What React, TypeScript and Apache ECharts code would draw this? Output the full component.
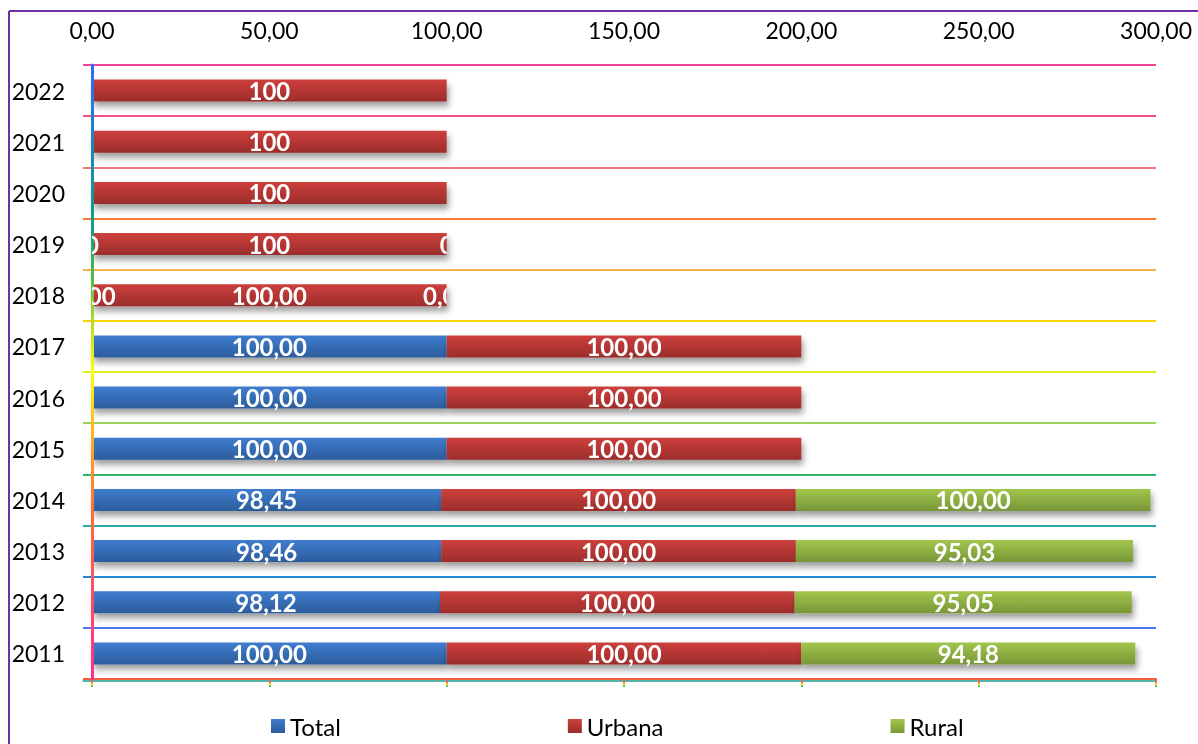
import React, { useEffect, useRef } from "react";
import * as echarts from "echarts";

const years = ["2011", "2012", "2013", "2014", "2015", "2016", "2017", "2018", "2019", "2020", "2021", "2022"];
const totalValues: (number | null)[] = [100, 98.12, 98.46, 98.45, 100, 100, 100, 0, 0, null, null, null];
const urbanaValues: (number | null)[] = [100, 100, 100, 100, 100, 100, 100, 100, 100, 100, 100, 100];
const ruralValues: (number | null)[] = [94.18, 95.05, 95.03, 100, null, null, null, 0, 0, null, null, null];
const labelDecimals = [2, 2, 2, 2, 2, 2, 2, 2, 0, 0, 0, 0];
const xMin = 0;
const xMax = 300;
const xInterval = 50;
const legendNames = ["Total", "Urbana", "Rural"];

const gridLineColors = [
  "#f5603c", "#4a78f0", "#2187d0", "#2aa8a8", "#2db56e", "#98d458", "#dcf020",
  "#f7d400", "#f7b04a", "#f77832", "#f27878", "#f05088", "#f0449a",
];

const fmt = (v: number, d: number) => v.toFixed(d).replace(".", ",");

const grad = (top: string, bottom: string) =>
  new echarts.graphic.LinearGradient(0, 0, 0, 1, [
    { offset: 0, color: top },
    { offset: 1, color: bottom },
  ]);

const FONT = "Lato, 'Open Sans', sans-serif";

export default function App() {
  const ref = useRef<HTMLDivElement>(null);
  useEffect(() => {
    if (!ref.current) return;
    const chart = echarts.init(ref.current, undefined, { renderer: "svg" });

    const zeroLabels: any[] = [];
    years.forEach((y, i) => {
      if (totalValues[i] === 0) zeroLabels.push([0, y, 0, labelDecimals[i], 0]);
      if (ruralValues[i] === 0)
        zeroLabels.push([(totalValues[i] || 0) + (urbanaValues[i] || 0), y, 1, labelDecimals[i], 0]);
    });

    const barLabel = {
      show: true,
      position: "inside" as const,
      color: "#ffffff",
      fontFamily: FONT,
      fontWeight: "bold" as const,
      fontSize: 24,
      formatter: (p: any) => {
        const v = p.value;
        if (v === null || v === undefined || v === 0) return "";
        return fmt(v, labelDecimals[p.dataIndex]);
      },
    };

    const shadow = {
      shadowColor: "rgba(0,0,0,0.38)",
      shadowBlur: 6,
      shadowOffsetX: 2,
      shadowOffsetY: 5,
    };

    const mkBar = (name: string, data: (number | null)[], top: string, bottom: string) => ({
      name,
      type: "bar",
      stack: "s",
      xAxisIndex: 0,
      yAxisIndex: 0,
      barWidth: 22,
      data,
      itemStyle: { color: grad(top, bottom), ...shadow },
      label: barLabel,
      emphasis: { disabled: true },
    });

    chart.setOption({
      animation: false,
      textStyle: { fontFamily: FONT },
      graphic: [
        { type: "line", shape: { x1: 9, y1: 11, x2: 1198, y2: 11 }, style: { stroke: "#7030a0", lineWidth: 2 } },
        { type: "line", shape: { x1: 9, y1: 11, x2: 9, y2: 744 }, style: { stroke: "#7030a0", lineWidth: 2 } },
      ],
      legend: {
        data: legendNames,
        left: 266,
        top: 709,
        icon: "rect",
        itemWidth: 14,
        itemHeight: 14,
        itemGap: 227,
        textStyle: { fontSize: 24, color: "#000", fontFamily: FONT },
      },
      grid: [
        { left: 92, right: 42, top: 65, bottom: 65 },
        { left: 83, right: 42, top: 65, bottom: 65 },
      ],
      xAxis: [
        {
          type: "value",
          gridIndex: 0,
          position: "bottom",
          min: xMin,
          max: xMax,
          interval: xInterval,
          axisLine: { show: true, lineStyle: { color: "#f5603c", width: 2 } },
          axisTick: {
            show: true,
            length: 8,
            lineStyle: {
              width: 2,
              color: new echarts.graphic.LinearGradient(0, 680, 0, 688, [
                { offset: 0, color: "#f0449a" },
                { offset: 0.3, color: "#f78032" },
                { offset: 0.55, color: "#f7e000" },
                { offset: 0.8, color: "#40c060" },
                { offset: 1, color: "#1a9a90" },
              ], true),
            },
          },
          axisLabel: { show: false },
          splitLine: { show: false },
        },
        {
          type: "value",
          gridIndex: 0,
          position: "top",
          min: xMin,
          max: xMax,
          interval: xInterval,
          axisLine: { show: false },
          axisTick: { show: false },
          splitLine: { show: false },
          axisLabel: {
            show: true,
            margin: 24,
            fontSize: 23,
            color: "#000",
            fontFamily: FONT,
            formatter: (v: number) => fmt(v, 2),
          },
        },
        {
          type: "value",
          gridIndex: 1,
          position: "bottom",
          offset: 2,
          min: xMin,
          max: xMax,
          interval: xInterval,
          axisLine: { show: true, lineStyle: { color: "#1a9a90", width: 1.5 } },
          axisTick: { show: false },
          axisLabel: { show: false },
          splitLine: { show: false },
        },
      ],
      yAxis: [
        {
          type: "category",
          gridIndex: 0,
          data: years,
          z: 5,
          axisLine: {
            show: true,
            lineStyle: {
              width: 3,
              color: new echarts.graphic.LinearGradient(0, 65, 0, 679, [
                { offset: 0, color: "#2e6cf5" },
                { offset: 0.17, color: "#1590b0" },
                { offset: 0.27, color: "#10a080" },
                { offset: 0.36, color: "#60c040" },
                { offset: 0.43, color: "#c8e020" },
                { offset: 0.5, color: "#ffff00" },
                { offset: 0.6, color: "#ffb020" },
                { offset: 0.72, color: "#ff7030" },
                { offset: 0.85, color: "#ff5060" },
                { offset: 1, color: "#ff3090" },
              ], true),
            },
          },
          axisTick: { show: false },
          splitLine: { show: false },
          axisLabel: { margin: 27, fontSize: 23, color: "#000", fontFamily: FONT },
        },
        {
          type: "category",
          gridIndex: 1,
          data: years,
          z: 1,
          axisLine: { show: false },
          axisTick: { show: false },
          axisLabel: { show: false },
          splitLine: { show: true, interval: 0, lineStyle: { color: gridLineColors, width: 2 } },
        },
      ],
      series: [
        mkBar("Total", totalValues, "#3f7dcf", "#2c5c9c"),
        mkBar("Urbana", urbanaValues, "#cd403d", "#9c2d2b"),
        mkBar("Rural", ruralValues, "#a2c64c", "#789638"),
        {
          name: "zeroLabels",
          type: "custom",
          xAxisIndex: 0,
          yAxisIndex: 0,
          z: 10,
          clip: false,
          data: zeroLabels,
          encode: { x: 0, y: 1 },
          renderItem: (params: any, api: any) => {
            const p = api.coord([api.value(0), api.value(1)]);
            const side = api.value(2);
            const dec = api.value(3);
            const v = api.value(4);
            return {
              type: "text",
              x: p[0],
              y: p[1],
              style: {
                text: fmt(v, dec),
                fill: "#ffffff",
                font: `bold 24px ${FONT}`,
                align: "center",
                verticalAlign: "middle",
              },
              clipPath: {
                type: "rect",
                shape: side === 0 ? { x: 0, y: -16, width: 60, height: 32 } : { x: -60, y: -16, width: 60, height: 32 },
              },
            };
          },
        },
      ],
    });
    return () => chart.dispose();
  }, []);
  return <div ref={ref} style={{ position: "fixed", left: 0, top: 0, width: 1198, height: 744 }} />;
}
